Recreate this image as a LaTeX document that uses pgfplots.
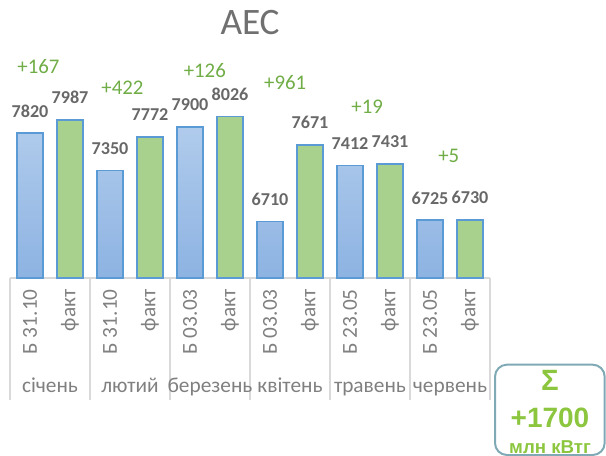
\documentclass[border=0pt]{standalone}
\usepackage{pgfplots}
\pgfplotsset{compat=1.18}
\usepackage{fontspec}
\setmainfont{Carlito}
\newfontfamily\boxfont{Liberation Sans}

\definecolor{barblue}{HTML}{5B9BD5}
\definecolor{bluetop}{HTML}{B0CBEC}
\definecolor{bluebot}{HTML}{8DB3E2}
\definecolor{bargreen}{HTML}{A9D18E}
\definecolor{labgray}{HTML}{686868}
\definecolor{tickgray}{HTML}{808080}
\definecolor{titlegray}{HTML}{707070}
\definecolor{sepgray}{HTML}{D9D9D9}
\definecolor{diffgreen}{HTML}{70AD47}
\definecolor{sumgreen}{HTML}{8CC63F}
\definecolor{boxline}{HTML}{7FA9B5}

% plan (Б) and fact, one bar per category slot 0..11
\pgfplotstableread{
x  y
0  7820
2  7350
4  7900
6  6710
8  7412
10 6725
}\plan
\pgfplotstableread{
x  y
1  7987
3  7772
5  8026
7  7671
9  7431
11 6730
}\fact
\pgfplotstableread{
x     y     lab
0.21  8654  +167
2.31  8383  +422
4.37  8600  +126
6.38  8453  +961
8.43  8152  +19
10.47 7532  +5
}\diffs

\begin{document}
\begin{tikzpicture}
\begin{axis}[
    scale only axis,
    width=360pt, height=179.25pt,
    xmin=-0.5, xmax=11.5,
    ymin=6000, ymax=9000,
    axis x line*=bottom,
    axis y line=none,
    x axis line style={-, draw=sepgray, line width=1.5pt},
    ytick=\empty,
    xtick={0,...,11},
    xticklabels={Б 31.10,факт,Б 31.10,факт,Б 03.03,факт,Б 03.03,факт,Б 23.05,факт,Б 23.05,факт},
    xticklabel style={rotate=90, anchor=east, font=\fontsize{16}{16}\selectfont, text=tickgray},
    xticklabel shift=5pt,
    major tick length=0pt,
    minor xtick={-0.5,1.5,3.5,5.5,7.5,9.5,11.5},
    minor tick length=91.5pt,
    tick align=outside,
    xtick pos=bottom,
    minor tick style={draw=sepgray, line width=1pt},
    extra x ticks={0.5,2.5,4.5,6.5,8.5,10.5},
    extra x tick labels={січень,лютий,березень,квітень,травень,червень},
    extra x tick style={xticklabel style={rotate=-90, anchor=base, yshift=-81pt}},
    title={АЕС},
    title style={font=\fontsize{28}{28}\selectfont, text=titlegray, at={(0.5,1)}, anchor=center, yshift=6pt},
    clip=false,
    /pgf/number format/1000 sep={},
    /pgf/number format/assume math mode=true,
    nodes near coords,
    every node near coord/.append style={font=\bfseries\fontsize{13.6}{14}\selectfont, text=labgray, anchor=center, yshift=16.5pt},
]
\addplot[ybar, bar width=20pt, bar shift=0pt, draw=barblue, line width=1.3pt,
    top color=bluetop, bottom color=bluebot] table[x=x, y=y] {\plan};
\addplot[ybar, bar width=20pt, bar shift=0pt, draw=barblue, line width=1.3pt,
    fill=bargreen] table[x=x, y=y] {\fact};
\addplot[draw=none, mark=none, point meta=explicit symbolic,
    every node near coord/.style={font=\fontsize{15.6}{16}\selectfont, text=diffgreen, anchor=center}]
    table[x=x, y=y, meta=lab] {\diffs};
\end{axis}
\draw[boxline, line width=1.5pt, rounded corners=9pt] (363.75pt,-65pt) rectangle (446pt,-132.75pt);
\node[text=sumgreen, font=\boxfont\bfseries\fontsize{22}{22}\selectfont] at (405pt,-77pt) {Σ};
\node[text=sumgreen, font=\boxfont\bfseries\fontsize{21}{21}\selectfont] at (405pt,-105pt) {+1700};
\node[text=sumgreen, font=\boxfont\bfseries\fontsize{14}{14}\selectfont, anchor=base] at (405pt,-131.25pt) {млн кВтг};
\pgfresetboundingbox
\path[use as bounding box] (-7.5pt,-133.5pt) rectangle (447pt,208.5pt);
\end{tikzpicture}
\end{document}
